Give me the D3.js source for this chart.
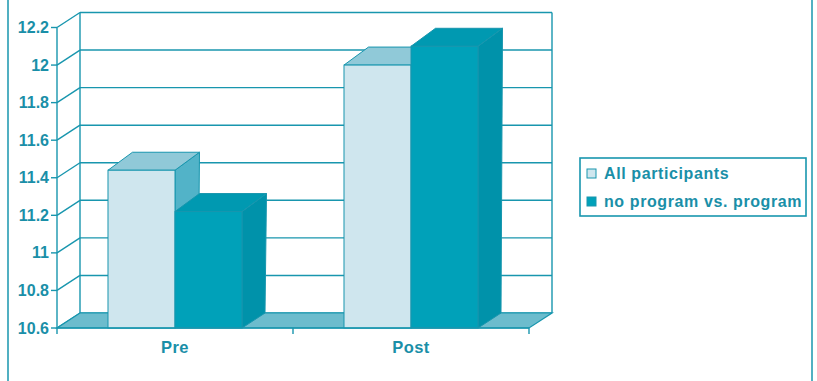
<!DOCTYPE html>
<html><head><meta charset="utf-8">
<script src="https://cdn.jsdelivr.net/npm/d3@7/dist/d3.min.js"></script>
<style>html,body{margin:0;padding:0;background:#fff;}svg{display:block;}</style>
</head><body>
<svg id="c" width="817" height="381"></svg>
<script>
const categories = ["Pre", "Post"];
const series = ["All participants", "no program vs. program"];
const allParticipants = [11.44, 12.0];
const noProgramVsProgram = [11.22, 12.1];
const yTicks = [10.6, 10.8, 11, 11.2, 11.4, 11.6, 11.8, 12, 12.2];
const yTickLabels = ["10.6", "10.8", "11", "11.2", "11.4", "11.6", "11.8", "12", "12.2"];

const values = [allParticipants, noProgramVsProgram];
const lineC = "#1896ae", textC = "#1a8fa8";
const faces = [
  {front: "#cfe6ee", top: "#90c9d8", side: "#52b3c8"},
  {front: "#00a1b9", top: "#0099b1", side: "#0092aa"}
];
const svg = d3.select("#c");
const font = "'Liberation Sans', Arial, sans-serif";

const x0 = d3.scaleBand().domain(categories).range([57, 529]).paddingInner(0).paddingOuter(0);
const x1 = d3.scaleBand().domain(series).range([0, x0.bandwidth()]).paddingInner(0).paddingOuter(0.761);
const y = d3.scaleLinear().domain([10.6, 12.2]).range([328, 27.5]);

const wdx = 23, wdy = -15;   // wall depth
const tdx = 24.5, tdy = -18; // bar top depth
const bdx = 23, bdy = -15;   // bar bottom depth

// outer frame
svg.append("rect").attr("x", 8).attr("y", -5).attr("width", 804).attr("height", 400)
  .attr("fill", "none").attr("stroke", lineC).attr("stroke-width", 1.5);

const g = svg.append("g");
const [xl, xr] = x0.range();
const ybot = y(10.6), ytop = y(12.2);

// back wall gridlines
yTicks.forEach(t => {
  g.append("line").attr("x1", xl + wdx).attr("x2", xr + wdx).attr("y1", y(t) + wdy).attr("y2", y(t) + wdy)
    .attr("stroke", lineC).attr("stroke-width", 1.4);
  g.append("line").attr("x1", xl).attr("x2", xl + wdx).attr("y1", y(t)).attr("y2", y(t) + wdy)
    .attr("stroke", lineC).attr("stroke-width", 1.4);
});
// back wall verticals
[xl + wdx, xr + wdx].forEach(xx => {
  g.append("line").attr("x1", xx).attr("x2", xx).attr("y1", ytop + wdy).attr("y2", ybot + wdy)
    .attr("stroke", lineC).attr("stroke-width", 1.4);
});
// floor
g.append("polygon")
  .attr("points", [[xl, ybot], [xr, ybot], [xr + wdx, ybot + wdy], [xl + wdx, ybot + wdy]].map(p => p.join(",")).join(" "))
  .attr("fill", "#6cbccd").attr("stroke", lineC).attr("stroke-width", 1.2);

// front left axis
g.append("line").attr("x1", xl).attr("x2", xl).attr("y1", ybot).attr("y2", ytop).attr("stroke", lineC).attr("stroke-width", 1.4);
yTicks.forEach((t, i) => {
  g.append("line").attr("x1", xl - 6).attr("x2", xl).attr("y1", y(t)).attr("y2", y(t)).attr("stroke", lineC).attr("stroke-width", 1.4);
  g.append("text").attr("x", 49).attr("y", y(t) + 5.5).attr("text-anchor", "end")
    .attr("font-family", font).attr("font-weight", "bold").attr("font-size", 16).attr("fill", textC)
    .text(yTickLabels[i]);
});

// bars
categories.forEach((c, ci) => {
  series.forEach((s, si) => {
    const v = values[si][ci];
    const bx = x0(c) + x1(s), bw = x1.bandwidth();
    const yt = y(v), yb = ybot;
    const f = faces[si];
    const pts = a => a.map(p => p.join(",")).join(" ");
    g.append("polygon").attr("points", pts([[bx + bw, yt], [bx + bw + tdx, yt + tdy], [bx + bw + bdx, yb + bdy], [bx + bw, yb]]))
      .attr("fill", f.side).attr("stroke", lineC).attr("stroke-width", 1).attr("stroke-linejoin", "round");
    g.append("polygon").attr("points", pts([[bx, yt], [bx + tdx, yt + tdy], [bx + bw + tdx, yt + tdy], [bx + bw, yt]]))
      .attr("fill", f.top).attr("stroke", lineC).attr("stroke-width", 1).attr("stroke-linejoin", "round");
    g.append("rect").attr("x", bx).attr("y", yt).attr("width", bw).attr("height", yb - yt)
      .attr("fill", f.front).attr("stroke", lineC).attr("stroke-width", 1);
  });
});

// front bottom axis
g.append("line").attr("x1", xl).attr("x2", xr).attr("y1", ybot).attr("y2", ybot).attr("stroke", lineC).attr("stroke-width", 1.4);
[xl, ...categories.slice(1).map(c => x0(c)), xr].forEach(xx => {
  g.append("line").attr("x1", xx).attr("x2", xx).attr("y1", ybot).attr("y2", ybot + 6).attr("stroke", lineC).attr("stroke-width", 1.4);
});
categories.forEach(c => {
  g.append("text").attr("x", x0(c) + x0.bandwidth() / 2).attr("y", 353).attr("text-anchor", "middle")
    .attr("font-family", font).attr("font-weight", "bold").attr("font-size", 16.5).attr("letter-spacing", 0.4)
    .attr("fill", textC).text(c);
});

// legend
const lg = svg.append("g");
lg.append("rect").attr("x", 580).attr("y", 158).attr("width", 226).attr("height", 58)
  .attr("fill", "#fff").attr("stroke", lineC).attr("stroke-width", 1.6);
series.forEach((s, i) => {
  const yy = 169 + i * 28;
  lg.append("rect").attr("x", 587).attr("y", yy).attr("width", 9).attr("height", 9)
    .attr("fill", faces[i].front).attr("stroke", lineC).attr("stroke-width", 1);
  lg.append("text").attr("x", 604).attr("y", yy + 10).attr("font-family", font).attr("font-weight", "bold")
    .attr("font-size", 16).attr("letter-spacing", 0.6).attr("fill", textC).text(s);
});
</script>
</body></html>
